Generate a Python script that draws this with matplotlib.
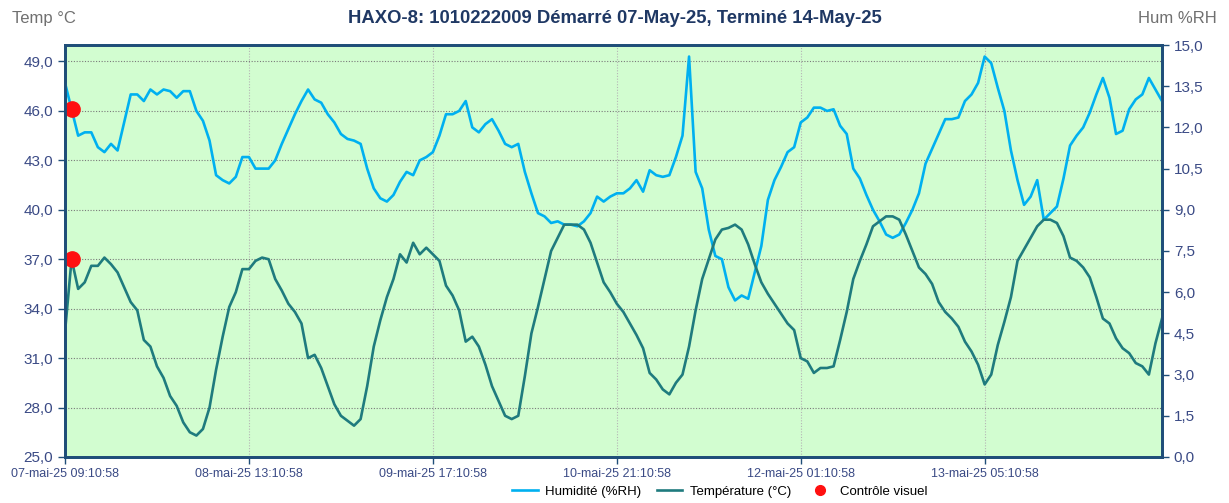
import numpy as np
import matplotlib
matplotlib.use("Agg")
import matplotlib.pyplot as plt
from matplotlib.ticker import FuncFormatter
from matplotlib.lines import Line2D

plt.rcParams['font.family'] = ['Liberation Sans', 'DejaVu Sans']

# hourly readings, read on the left scale
humidity = [
    47.7, 46.1, 44.5, 44.7, 44.7, 43.8, 43.5, 44.0, 43.6, 45.3,
    47.0, 47.0, 46.6, 47.3, 47.0, 47.3, 47.2, 46.8, 47.2, 47.2,
    46.0, 45.4, 44.2, 42.1, 41.8, 41.6, 42.0, 43.2, 43.2, 42.5,
    42.5, 42.5, 43.0, 44.0, 44.9, 45.8, 46.6, 47.3, 46.7, 46.5,
    45.8, 45.3, 44.6, 44.3, 44.2, 44.0, 42.5, 41.3, 40.7, 40.5,
    40.9, 41.7, 42.3, 42.1, 43.0, 43.2, 43.5, 44.5, 45.8, 45.8,
    46.0, 46.6, 45.0, 44.7, 45.2, 45.5, 44.8, 44.0, 43.8, 44.0,
    42.3, 41.0, 39.8, 39.6, 39.2, 39.3, 39.1, 39.1, 39.0, 39.3,
    39.8, 40.8, 40.5, 40.8, 41.0, 41.0, 41.3, 41.8, 41.1, 42.4,
    42.1, 42.0, 42.1, 43.2, 44.5, 49.3, 42.3, 41.3, 38.8, 37.2,
    37.0, 35.3, 34.5, 34.8, 34.6, 36.2, 37.8, 40.6, 41.8, 42.6,
    43.5, 43.8, 45.3, 45.6, 46.2, 46.2, 46.0, 46.1, 45.1, 44.6,
    42.5, 41.9, 40.9, 40.0, 39.3, 38.5, 38.3, 38.5, 39.2, 40.0,
    41.0, 42.8, 43.7, 44.6, 45.5, 45.5, 45.6, 46.6, 47.0, 47.7,
    49.3, 48.9, 47.4, 46.0, 43.6, 41.8, 40.3, 40.8, 41.8, 39.4,
    39.8, 40.2, 41.9, 43.9, 44.5, 45.0, 45.9, 47.0, 48.0, 46.8,
    44.6, 44.8, 46.1, 46.7, 47.0, 48.0, 47.3, 46.6,
]
temperature = [
    32.6, 37.0, 35.2, 35.6, 36.6, 36.6, 37.1, 36.7, 36.2, 35.3,
    34.4, 33.9, 32.1, 31.7, 30.5, 29.8, 28.7, 28.1, 27.1, 26.5,
    26.3, 26.7, 28.0, 30.3, 32.3, 34.1, 35.0, 36.4, 36.4, 36.9,
    37.1, 37.0, 35.8, 35.1, 34.3, 33.8, 33.1, 31.0, 31.2, 30.4,
    29.3, 28.2, 27.5, 27.2, 26.9, 27.3, 29.3, 31.7, 33.3, 34.7,
    35.8, 37.3, 36.8, 38.0, 37.3, 37.7, 37.3, 36.9, 35.4, 34.8,
    33.9, 32.0, 32.3, 31.7, 30.6, 29.3, 28.4, 27.5, 27.3, 27.5,
    29.9, 32.5, 34.1, 35.8, 37.5, 38.3, 39.1, 39.1, 39.1, 38.8,
    38.0, 36.8, 35.6, 35.0, 34.3, 33.8, 33.1, 32.4, 31.6, 30.1,
    29.7, 29.1, 28.8, 29.5, 30.0, 31.7, 33.9, 35.8, 37.0, 38.2,
    38.8, 38.9, 39.1, 38.8, 37.9, 36.7, 35.6, 34.9, 34.3, 33.7,
    33.1, 32.7, 31.0, 30.8, 30.1, 30.4, 30.4, 30.5, 32.1, 33.8,
    35.8, 36.9, 37.9, 39.0, 39.3, 39.6, 39.6, 39.4, 38.5, 37.5,
    36.5, 36.1, 35.5, 34.4, 33.8, 33.4, 32.9, 32.0, 31.4, 30.6,
    29.4, 30.0, 31.8, 33.2, 34.7, 36.9, 37.6, 38.3, 39.0, 39.4,
    39.4, 39.2, 38.4, 37.1, 36.9, 36.5, 35.9, 34.7, 33.4, 33.1,
    32.2, 31.6, 31.3, 30.7, 30.5, 30.0, 31.9, 33.4,
]
check_hours = [1, 1]
check_values = [46.1, 37.0]

tick_hours = [0, 28, 56, 84, 112, 140]
tick_labels = ["07-mai-25 09:10:58", "08-mai-25 13:10:58", "09-mai-25 17:10:58",
               "10-mai-25 21:10:58", "12-mai-25 01:10:58", "13-mai-25 05:10:58"]

hours = np.arange(len(humidity))

navy = '#1F4E79'
tick_col = '#3A4A85'
hum_col = '#00B0F0'
temp_col = '#1F7B7E'

fig = plt.figure(figsize=(12.29, 5.03), dpi=100)
ax = fig.add_axes([0.0529, 0.0915, 0.8926, 0.819])
ax.set_facecolor('#D2FDD0')

ax.plot(hours, humidity, color=hum_col, lw=1.9, zorder=3)
ax.plot(hours, temperature, color=temp_col, lw=1.9, zorder=3)
ax.plot(check_hours, check_values, 'o', color='#FF1010', ms=11, zorder=4)

ax.set_xlim(0, hours[-1])
ax.set_ylim(25, 50)
ax.set_yticks(np.arange(25, 50, 3))
ax.yaxis.set_major_formatter(FuncFormatter(lambda v, p: f"{v:.1f}".replace('.', ',')))
ax.set_xticks(tick_hours)
ax.set_xticklabels(tick_labels)

ax.grid(axis='y', color='#7A7A7A', ls=(0, (1, 1.5)), lw=0.8)
ax.grid(axis='x', color='#B5B5B5', ls=(0, (1, 1.5)), lw=0.8)

for s in ax.spines.values():
    s.set_color(navy)
    s.set_linewidth(2)

ax.tick_params(axis='y', colors=navy, labelcolor=tick_col, labelsize=11, length=5, width=1)
ax.tick_params(axis='x', colors=navy, labelcolor=tick_col, labelsize=9, length=5, width=1, pad=3)

ax2 = ax.twinx()
ax2.set_ylim(0, 15)
ax2.set_yticks(np.arange(0, 15.1, 1.5))
ax2.yaxis.set_major_formatter(FuncFormatter(lambda v, p: f"{v:.1f}".replace('.', ',')))
ax2.tick_params(axis='y', colors=navy, labelcolor=tick_col, labelsize=11, length=5, width=1)
for s in ax2.spines.values():
    s.set_color(navy)
    s.set_linewidth(2)

fig.text(0.5, 0.963, "HAXO-8: 1010222009 Démarré 07-May-25, Terminé 14-May-25",
         ha='center', va='center', fontsize=13.3, fontweight='bold', color='#1F3864')
fig.text(0.010, 0.963, "Temp °C", ha='left', va='center', fontsize=12, color='#707070')
fig.text(0.990, 0.963, "Hum %RH", ha='right', va='center', fontsize=12, color='#707070')

handles = [Line2D([], [], color=hum_col, lw=1.9),
           Line2D([], [], color=temp_col, lw=1.9),
           Line2D([], [], ls='', marker='o', color='#FF1010', ms=7)]
fig.legend(handles, ["Humidité (%RH)", "Température (°C)", "Contrôle visuel"],
           loc='center', bbox_to_anchor=(0.586, 0.022), ncol=3, frameon=False,
           fontsize=9.5, handlelength=1.9, columnspacing=1.2, handletextpad=0.6)

fig.savefig('out.png', dpi=100)
